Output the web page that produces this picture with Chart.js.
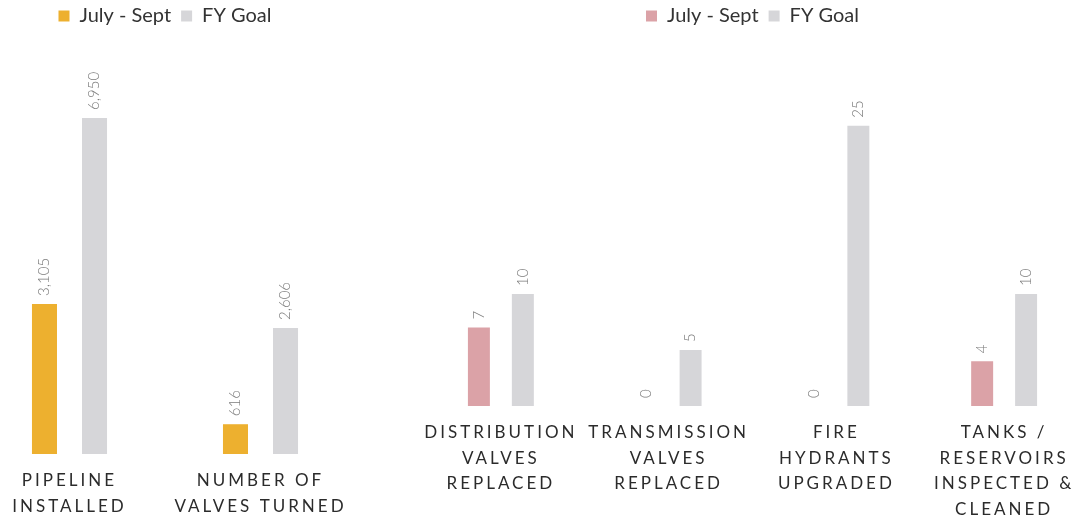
<!DOCTYPE html>
<html>
<head>
<meta charset="utf-8">
<script src="https://cdn.jsdelivr.net/npm/chart.js@4.4.1/dist/chart.umd.min.js"></script>
<style>
  html, body { margin: 0; padding: 0; background: #ffffff; }
  #wrap { position: relative; width: 1078px; height: 520px; overflow: hidden; background: #ffffff; }
  canvas { position: absolute; top: 0; }
  #leftChart { left: -26px; }
  #rightChart { left: 417px; }
</style>
</head>
<body>
<div id="wrap">
  <canvas id="leftChart" width="382" height="520"></canvas>
  <canvas id="rightChart" width="671" height="520"></canvas>
</div>
<script>
// Pipeline and valve-exercise totals
const pipeCategories = [['PIPELINE', 'INSTALLED'], ['NUMBER OF', 'VALVES TURNED']];
const pipeQuarter = [3105, 616];
const pipeGoal = [6950, 2606];

// Replacement / inspection counts
const assetCategories = [
  ['DISTRIBUTION', 'VALVES', 'REPLACED'],
  ['TRANSMISSION', 'VALVES', 'REPLACED'],
  ['FIRE', 'HYDRANTS', 'UPGRADED'],
  ['TANKS /', 'RESERVOIRS', 'INSPECTED &', 'CLEANED']
];
const assetQuarter = [7, 0, 0, 4];
const assetGoal = [10, 5, 25, 10];

const seriesNames = ['July - Sept', 'FY Goal'];

const ORANGE = '#edb02f';
const ROSE = '#dba2a7';
const GREY = '#d6d6d9';
const FONT = 'Lato, "Open Sans", sans-serif';

// Rotated value labels above each bar, plus spaced-out category text
const barValueLabels = {
  id: 'barValueLabels',
  afterDatasetsDraw(chart) {
    const ctx = chart.ctx;
    ctx.save();
    ctx.font = '300 15px ' + FONT;
    ctx.fillStyle = '#7c7c7c';
    ctx.textAlign = 'left';
    ctx.textBaseline = 'middle';
    chart.data.datasets.forEach((ds, di) => {
      const meta = chart.getDatasetMeta(di);
      meta.data.forEach((bar, i) => {
        const v = ds.data[i];
        ctx.save();
        ctx.translate(bar.x, bar.y - 8);
        ctx.rotate(-Math.PI / 2);
        ctx.fillText(v.toLocaleString('en-US'), 0, 0);
        ctx.restore();
      });
    });
    ctx.restore();
    ctx.letterSpacing = '3px';
  },
  afterDraw(chart) {
    chart.ctx.letterSpacing = '0px';
  }
};

function makeChart(id, labels, quarter, goal, quarterColor, yMax, axisHeight) {
  return new Chart(document.getElementById(id), {
    type: 'bar',
    data: {
      labels: labels,
      datasets: [
        { label: seriesNames[0], data: quarter, backgroundColor: quarterColor,
          categoryPercentage: 0.524, barPercentage: 0.5 },
        { label: seriesNames[1], data: goal, backgroundColor: GREY,
          categoryPercentage: 0.524, barPercentage: 0.5 }
      ]
    },
    options: {
      responsive: false,
      animation: false,
      layout: { padding: { top: -4, left: 0, right: 0, bottom: 0 } },
      plugins: {
        tooltip: { enabled: false },
        legend: {
          display: true,
          position: 'top',
          labels: {
            boxWidth: 11,
            boxHeight: 11,
            padding: 10,
            color: '#333333',
            font: { family: FONT, size: 20 }
          }
        }
      },
      scales: {
        x: {
          grid: { display: false, drawTicks: false },
          border: { display: false },
          afterFit(scale) { scale.height = axisHeight; },
          ticks: {
            z: 1,
            autoSkip: false,
            maxRotation: 0,
            minRotation: 0,
            padding: 14,
            color: '#2b2b2b',
            font: { family: FONT, size: 17, lineHeight: 1.5 }
          }
        },
        y: {
          display: false,
          min: 0,
          max: yMax
        }
      }
    },
    plugins: [barValueLabels]
  });
}

makeChart('leftChart', pipeCategories, pipeQuarter, pipeGoal, ORANGE, 8646, 66);
makeChart('rightChart', assetCategories, assetQuarter, assetGoal, ROSE, 33.0, 114);
</script>
</body>
</html>
